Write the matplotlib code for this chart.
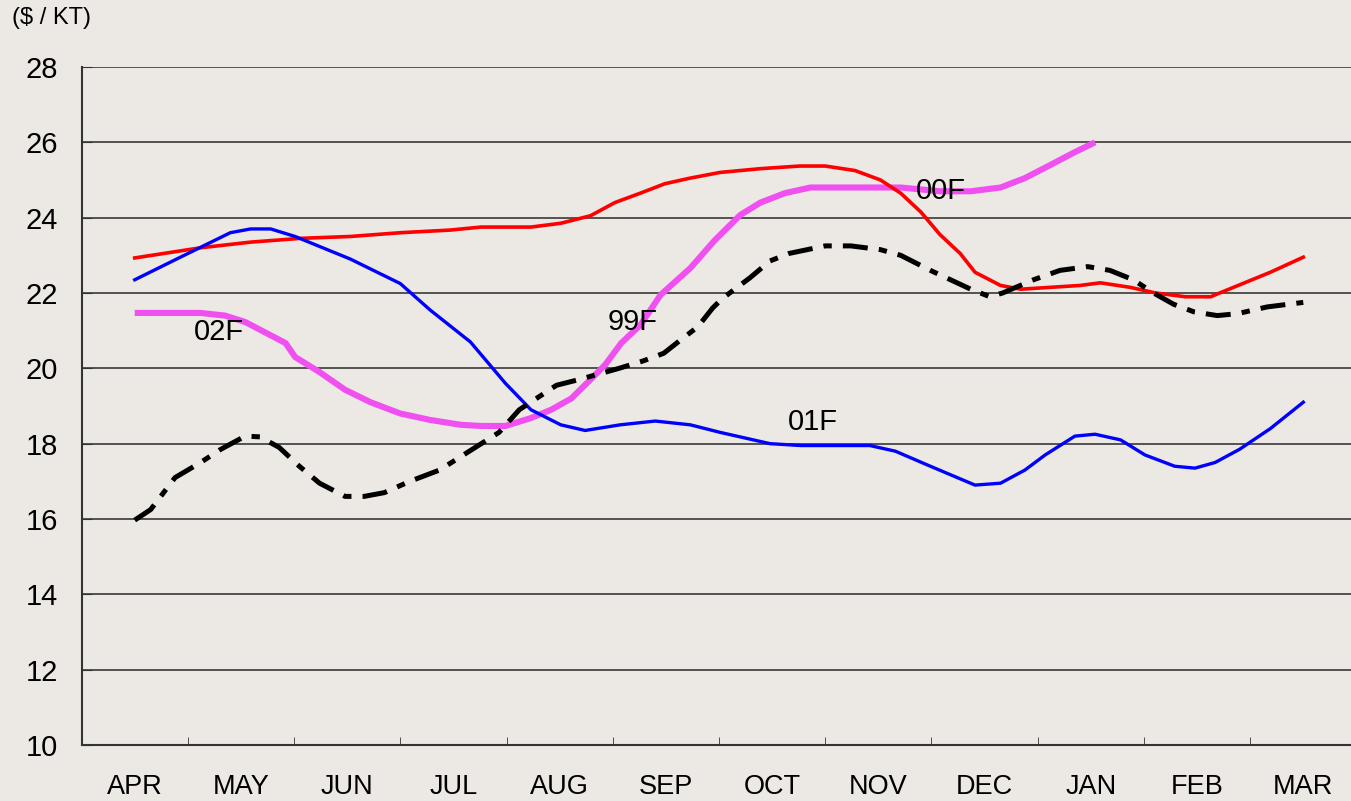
import numpy as np
import matplotlib.pyplot as plt

plt.rcParams['font.family'] = ['Liberation Sans', 'DejaVu Sans']
plt.rcParams['lines.scale_dashes'] = False

months = ['APR', 'MAY', 'JUN', 'JUL', 'AUG', 'SEP', 'OCT', 'NOV', 'DEC', 'JAN', 'FEB', 'MAR']

# positions are month index (0 = APR), values in $/KT
f01_x = [0.00, 0.43, 0.90, 1.09, 1.28, 1.51, 2.03, 2.50, 2.78, 3.16, 3.49, 3.73, 4.01, 4.24,
         4.57, 4.90, 5.23, 5.51, 5.98, 6.27, 6.92, 7.16, 7.49, 7.91, 8.15, 8.38, 8.57, 8.85,
         9.04, 9.28, 9.51, 9.79, 9.98, 10.17, 10.40, 10.69, 11.00]
f01_y = [22.35, 22.95, 23.6, 23.7, 23.7, 23.5, 22.9, 22.25, 21.55, 20.7, 19.6, 18.9, 18.5, 18.35,
         18.5, 18.6, 18.5, 18.3, 18.0, 17.95, 17.95, 17.8, 17.4, 16.9, 16.95, 17.3, 17.7, 18.2,
         18.25, 18.1, 17.7, 17.4, 17.35, 17.5, 17.85, 18.4, 19.1]

f00_x = [0.00, 0.62, 1.09, 1.56, 2.03, 2.50, 2.97, 3.26, 3.73, 4.01, 4.29, 4.52, 4.76, 4.99,
         5.23, 5.51, 5.89, 6.26, 6.50, 6.78, 7.02, 7.21, 7.40, 7.58, 7.77, 7.91, 8.15, 8.34,
         8.62, 8.90, 9.09, 9.37, 9.61, 9.89, 10.13, 10.17, 10.69, 11.00]
f00_y = [22.93, 23.2, 23.35, 23.45, 23.5, 23.6, 23.67, 23.75, 23.75, 23.85, 24.05, 24.4, 24.65, 24.9,
         25.05, 25.2, 25.3, 25.37, 25.37, 25.25, 25.0, 24.65, 24.15, 23.55, 23.05, 22.55, 22.2, 22.1,
         22.15, 22.2, 22.27, 22.15, 22.0, 21.9, 21.9, 21.95, 22.55, 22.95]

f99_x = [0.00, 0.15, 0.38, 0.62, 0.81, 1.04, 1.18, 1.36, 1.55, 1.74, 1.98, 2.16, 2.35, 2.59,
         2.87, 3.15, 3.43, 3.62, 3.97, 4.18, 4.37, 4.56, 4.79, 4.98, 5.16, 5.30, 5.44, 5.53,
         5.79, 5.98, 6.16, 6.50, 6.74, 7.02, 7.21, 7.49, 7.68, 7.87, 8.05, 8.17, 8.46, 8.71,
         8.97, 9.18, 9.40, 9.59, 9.78, 9.97, 10.19, 10.38, 10.66, 11.00]
f99_y = [15.97, 16.25, 17.1, 17.5, 17.85, 18.2, 18.18, 17.9, 17.4, 16.95, 16.6, 16.6, 16.7, 17.0,
         17.3, 17.8, 18.3, 18.9, 19.55, 19.7, 19.85, 20.0, 20.2, 20.4, 20.8, 21.1, 21.6, 21.85,
         22.4, 22.85, 23.05, 23.25, 23.25, 23.15, 23.0, 22.6, 22.35, 22.1, 21.9, 22.0, 22.35, 22.6,
         22.7, 22.6, 22.35, 22.0, 21.7, 21.5, 21.4, 21.45, 21.63, 21.75]

f02_x = [0.00, 0.62, 0.85, 1.04, 1.23, 1.42, 1.51, 1.74, 1.98, 2.22, 2.50, 2.78, 3.07, 3.26,
         3.49, 3.73, 3.92, 4.11, 4.29, 4.43, 4.58, 4.76, 4.95, 5.23, 5.46, 5.70, 5.89, 6.12,
         6.36, 6.74, 7.21, 7.58, 7.87, 8.15, 8.38, 8.62, 8.85, 9.04]
f02_y = [21.47, 21.47, 21.4, 21.23, 20.95, 20.67, 20.3, 19.9, 19.43, 19.1, 18.8, 18.63, 18.5, 18.47,
         18.47, 18.68, 18.9, 19.2, 19.7, 20.1, 20.67, 21.15, 21.95, 22.66, 23.4, 24.07, 24.4, 24.65,
         24.8, 24.8, 24.8, 24.7, 24.7, 24.8, 25.05, 25.4, 25.74, 26.0]

labels = ['02F', '99F', '01F', '00F']
label_x = [0.79, 4.69, 6.38, 7.59]
label_y = [20.97, 21.24, 18.58, 24.7]

bg = '#ECE8E4'
fig = plt.figure(figsize=(13.51, 8.01), dpi=100, facecolor=bg)
ax = fig.add_axes([0.0604, 0.0699, 0.9436, 0.8465], facecolor=bg)

ax.plot(f02_x, f02_y, color='#F050F0', lw=4.4, solid_capstyle='butt', zorder=3)
ax.plot(f00_x, f00_y, color='#FF0000', lw=2.6, zorder=4)
ax.plot(f01_x, f01_y, color='#0000FF', lw=2.4, zorder=4)
ax.plot(f99_x, f99_y, color='black', lw=3.6, dashes=(18, 8, 6, 8), zorder=4)

for t, x, y in zip(labels, label_x, label_y):
    ax.text(x, y, t, fontsize=21, ha='center', va='center', zorder=5)

ax.set_xlim(-0.5, 11.5)
ax.set_ylim(10, 28)
ax.set_yticks(np.arange(10, 29, 2))
ax.yaxis.grid(True, color='#2a2a2a', lw=1.1)
ax.set_axisbelow(True)
ax.set_xticks(range(12))
ax.set_xticklabels(months)
ax.set_xticks(np.arange(0.5, 11.5, 1), minor=True)
ax.tick_params(axis='x', which='major', length=0, pad=21, labelsize=19.5)
ax.tick_params(axis='x', which='minor', direction='in', length=6, color='#333333')
ax.tick_params(axis='y', direction='in', length=7, pad=17, labelsize=21, color='#333333')
for s in ['top', 'right']:
    ax.spines[s].set_visible(False)
for s in ['left', 'bottom']:
    ax.spines[s].set_color('#333333')
    ax.spines[s].set_linewidth(1.5)

fig.text(0.009, 0.977, '($ / KT)', fontsize=17, ha='left', va='center')

fig.savefig('out.png', dpi=100, facecolor=bg)
